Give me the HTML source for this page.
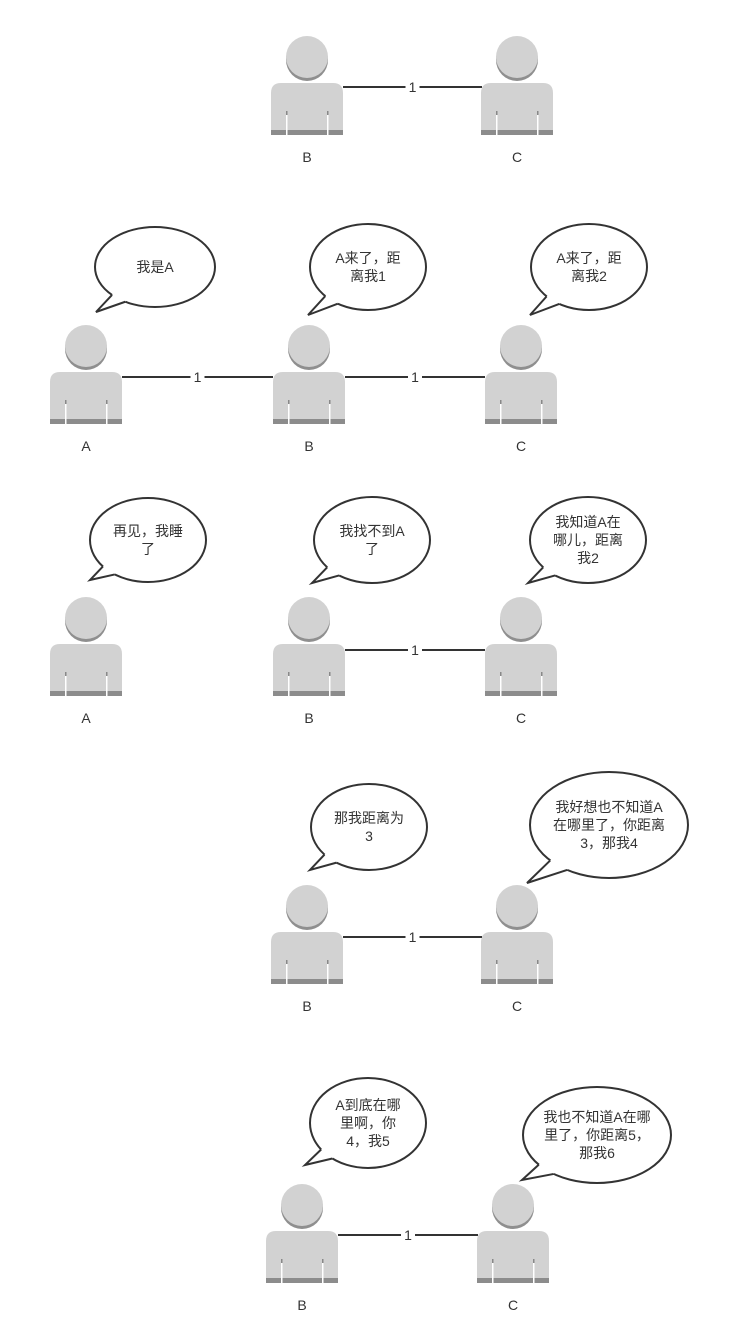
<!DOCTYPE html>
<html><head><meta charset="utf-8"><style>
html,body{margin:0;padding:0;background:#fff}
svg{display:block}
text{font-family:"Liberation Sans","Noto Sans CJK SC",sans-serif;fill:#333;font-size:14px}
</style></head><body>
<svg id="s" width="756" height="1319" viewBox="0 0 756 1319" xmlns="http://www.w3.org/2000/svg">
<defs>
<g id="p">
<path d="M0,58 Q0,48 10,48 L62,48 Q72,48 72,58 L72,100 L0,100 Z" fill="#d2d2d2"/>
<rect x="0" y="95" width="72" height="5" fill="#8c8c8c"/>
<rect x="15" y="76" width="1.5" height="24" fill="#fff"/>
<rect x="56" y="76" width="1.5" height="24" fill="#fff"/>
<rect x="15" y="76" width="1.5" height="4" fill="#888"/>
<rect x="56" y="76" width="1.5" height="4" fill="#888"/>
<circle cx="36" cy="25" r="21" fill="#8f8f8f"/>
<circle cx="36" cy="22" r="21" fill="#d2d2d2"/>
</g>
</defs>
</svg>
<script>
var s=document.getElementById('s'),NS='http://www.w3.org/2000/svg';
function el(t,a,txt){var e=document.createElementNS(NS,t);for(var k in a)e.setAttribute(k,a[k]);if(txt)e.textContent=txt;s.appendChild(e);return e;}
function person(cx,top,label){el('use',{href:'#p',x:cx-36,y:top});el('text',{x:cx,y:top+127,'text-anchor':'middle'},label);}
function link(x1,x2,y){var m=(x1+x2)/2;el('line',{x1:x1,y1:y,x2:m-7,y2:y,stroke:'#333','stroke-width':2});el('line',{x1:m+7,y1:y,x2:x2,y2:y,stroke:'#333','stroke-width':2});el('text',{x:m,y:y+5,'text-anchor':'middle'},'1');}
function bubble(cx,cy,rx,ry,tx,ty,lines){
 el('ellipse',{cx:cx,cy:cy,rx:rx,ry:ry,fill:'#fff',stroke:'#333','stroke-width':2});
 var a=Math.atan2((ty-cy)/ry,(tx-cx)/rx);var a1=a-0.2,a2=a+0.08;
 var p1=[cx+rx*Math.cos(a1),cy+ry*Math.sin(a1)],p2=[cx+rx*Math.cos(a2),cy+ry*Math.sin(a2)];
 var ic=[cx+(rx-3)*Math.cos(a1),cy+(ry-3)*Math.sin(a1)],ic2=[cx+(rx-3)*Math.cos(a2),cy+(ry-3)*Math.sin(a2)];
 el('polygon',{points:ic+' '+p1+' '+[tx,ty]+' '+p2+' '+ic2,fill:'#fff',stroke:'none'});
 el('polyline',{points:p1+' '+[tx,ty]+' '+p2,fill:'none',stroke:'#333','stroke-width':2,'stroke-linejoin':'miter'});
 var n=lines.length,y0=cy-(n-1)*9+5;
 lines.forEach(function(l,i){el('text',{x:cx,y:y0+i*18,'text-anchor':'middle'},l);});
}
// row1
person(307,35,'B');person(517,35,'C');link(343,482,87);
// row2
bubble(155,267,60,40,96,312,['我是A']);
bubble(368,267,58,43,308,315,['A来了，距','离我1']);
bubble(589,267,58,43,530,315,['A来了，距','离我2']);
person(86,324,'A');person(309,324,'B');person(521,324,'C');
link(122,273,377);link(345,485,377);
// row3
bubble(148,540,58,42,90,580,['再见，我睡','了']);
bubble(372,540,58,43,312,583,['我找不到A','了']);
bubble(588,540,58,43,528,583,['我知道A在','哪儿，距离','我2']);
person(86,596,'A');person(309,596,'B');person(521,596,'C');
link(345,485,650);
// row4
bubble(369,827,58,43,310,870,['那我距离为','3']);
bubble(609,825,79,53,527,883,['我好想也不知道A','在哪里了，你距离','3，那我4']);
person(307,884,'B');person(517,884,'C');link(343,482,937);
// row5
bubble(368,1123,58,45,305,1165,['A到底在哪','里啊，你','4，我5']);
bubble(597,1135,74,48,522,1180,['我也不知道A在哪','里了，你距离5，','那我6']);
person(302,1183,'B');person(513,1183,'C');link(338,478,1235);
</script>
</body></html>
